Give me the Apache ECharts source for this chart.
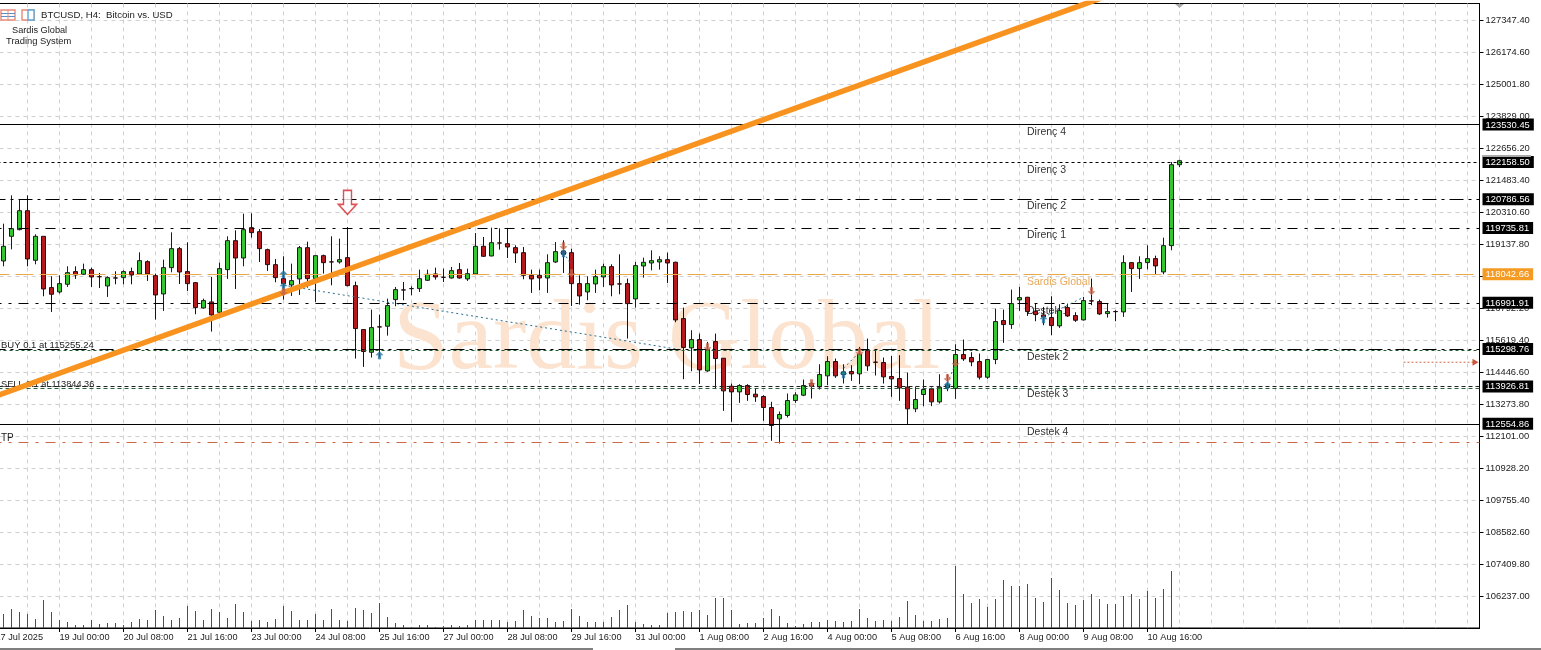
<!DOCTYPE html>
<html>
<head>
<meta charset="utf-8">
<style>html,body{margin:0;padding:0;background:#fff}#c{width:1541px;height:650px}</style>
<script src="https://cdn.jsdelivr.net/npm/echarts@6/dist/echarts.min.js"></script>
</head>
<body>
<div id="c"></div>
<script>
const opens=[118527,119431,119675,120371,118551,119431,117549,117390,117671,118136,118038,118209,117952,117610,117906,117916,118136,118050,118502,117989,117317,118282,118979,118136,117732,116804,117024,116645,118209,119272,118636,119748,119602,118942,118392,117879,117647,117867,119015,117879,118722,118493,118490,118649,117622,116010,115179,116110,116132,117109,
117466,117511,117513,117818,118050,117930,117903,118209,117867,118050,119064,118710,119188,119162,119015,118832,118001,118001,117903,118490,118893,118832,117696,117390,117684,117940,118319,117686,117696,117134,118343,118453,118490,118575,118478,116413,115338,115643,114495,115570,114959,113933,113725,113958,113640,113554,113151,112736,112858,113408,
113604,114031,113909,114312,114838,114361,114471,114386,115241,114815,114801,114288,114215,113897,113103,113628,113836,113359,113885,113848,115094,114984,114838,114263,114911,116340,116194,117098,117195,116682,116548,116450,116145,116817,116524,116365,117063,117037,116597,116672,116658,118466,118246,118466,118613,118124,119089,122058];
const closes=[119064,119712,120371,118600,119431,117500,117305,117696,118099,118013,118209,117940,117947,117916,117900,118136,118013,118539,118050,117280,118282,118979,118123,117696,116816,117073,116547,118246,119272,118636,119675,119565,118979,118392,117916,117696,117806,119015,117879,118722,118465,118490,118575,117622,116047,115204,116083,116105,116890,117476,
117462,117515,117879,118038,117940,117926,118172,117903,118062,119064,118698,119198,119184,119040,118820,118001,117867,117903,118465,118869,118771,117696,117244,117696,117952,118319,117647,117682,116963,118356,118478,118539,118575,118453,116364,115350,115643,114532,115277,114947,113762,113725,113958,113628,113542,113151,112492,112895,113408,113615,
113958,113934,114361,114838,114312,114459,114386,115106,114679,114811,114276,114202,113872,113103,113445,113811,113359,113897,113982,115094,114935,114825,114263,114911,116304,116194,116963,117183,116670,116560,116475,116157,116707,116511,116352,117073,117059,116585,116670,116668,118466,118246,118466,118613,118344,119089,122058,122204];
const lows=[118331,118954,119650,118331,118404,117232,116657,117329,117574,117867,118013,117574,117537,117207,117671,117671,117671,118026,117794,116376,116694,118111,117684,117427,116572,116780,115937,116547,117867,117500,118331,119382,118490,118160,117745,117109,117244,117280,117549,117024,118062,117635,118429,117598,114947,114642,114984,115008,115790,116865,
117085,117268,117390,117794,117842,117757,117879,117879,117794,118038,118673,118698,118942,118637,118453,117855,117354,117451,117354,118453,118087,116877,116926,117085,117354,117574,117232,117305,115680,116816,117916,118184,118209,117720,116279,114190,114483,114019,114458,113860,113029,112626,113322,113396,113359,112663,111930,111832,112785,113322,
113567,113482,113811,113970,114239,114031,114129,114007,114496,114325,114031,113543,113396,112529,112981,113201,113201,113298,113750,113469,114862,114667,114178,114202,114740,115522,116035,116695,116511,116316,116169,115803,116071,116475,116291,116340,116902,116548,116450,116316,116475,117391,117867,118222,118051,118038,118918,121972];
const highs=[119895,120933,120774,120933,119504,119431,117965,118001,118331,118331,118429,118282,118087,117965,118148,118184,118282,118844,118551,118062,118575,119577,119040,119211,117757,117146,117940,118465,119431,119650,120261,120274,119699,118979,118600,118698,118429,119076,119235,118722,118759,119431,119345,119773,117769,116010,116743,116560,117146,117574,
117757,117598,118209,118209,118282,118246,118307,118453,118246,119553,119406,119748,119724,119724,119101,119040,118209,118209,118771,119223,119284,118979,118001,117965,118209,118429,118404,118771,117879,118490,118649,118917,118698,118832,118502,116816,115985,115863,115558,115863,114959,114031,114006,114006,113848,113603,113359,113005,113664,113713,
114178,114090,114740,115033,114948,114740,114703,115375,115681,115277,114984,115045,115070,114434,113909,114178,113885,114373,114373,115473,115644,115180,115131,114911,116780,116743,117476,117574,117208,116963,116841,117232,116939,116963,116646,117208,117880,117110,116963,116719,118735,118466,118698,119101,118722,119382,122155,122241];
const volumes=[14,19,16,14,9,28,16,8,6,3,3,8,4,5,5,3,6,9,8,18,12,8,10,22,17,8,19,16,10,24,16,7,8,6,9,22,17,8,8,14,8,19,8,7,20,18,15,25,11,5,3,1,3,3,1,2,3,2,3,8,8,8,8,6,7,18,12,10,10,6,7,19,12,6,6,6,11,18,
23,6,4,3,3,15,16,17,16,18,13,30,30,18,4,5,5,10,19,12,5,2,4,6,6,8,7,6,7,19,10,7,8,7,11,27,13,7,7,9,10,62,34,25,29,21,29,48,42,42,44,30,26,50,38,25,23,28,34,29,24,24,32,34,29,37,30,39,57,1];
const timeLabels=['17 Jul 2025','19 Jul 00:00','20 Jul 08:00','21 Jul 16:00','23 Jul 00:00','24 Jul 08:00','25 Jul 16:00','27 Jul 00:00','28 Jul 08:00','29 Jul 16:00','31 Jul 00:00','1 Aug 08:00','2 Aug 16:00','4 Aug 00:00','5 Aug 08:00','6 Aug 16:00','8 Aug 00:00','9 Aug 08:00','10 Aug 16:00'];
const priceTicks=[127347.40,126174.60,125001.80,123829.00,122656.20,121483.40,120310.60,119137.80,117965.00,116792.20,115619.40,114446.60,113273.80,112101.00,110928.20,109755.40,108582.60,107409.80,106237.00];
const taggedLevels=[123530.45,122158.50,120786.56,119735.81,116991.91,115298.76,113926.81,112554.86];
const orangeLevel=118042.66;
const buyLevel=115255.24, sellLevel=113844.36, tpLevel=111862.80;
const trendBars=[0,140], trendPrices=[113567,128359];
const tradeLineBars=[[36,86],[71,72],[106,108],[119,120],[131,136]];
const tradeLinePrices=[[117635,115253],[118845,118368],[114593,115179],[114043,114776],[116462,117195]];
const buyBars=[36,36,48,71,106,119,131], buyPrices=[118038,117598,115069,118808,114373,113970,116389];
const sellBars=[36,71,72,89,102,108,119,120,137], sellPrices=[117378,119064,118075,115362,114043,115179,114226,114776,117415];
const signalBar=44, signalPrice=120677;
const pendingBars=[176,185], pendingPrice=114813;
const levelNames=['Direnç 4','Direnç 3','Direnç 2','Direnç 1','Sardis Global','Destek 1','Destek 2','Destek 3','Destek 4'];

const BAR_COUNT=186;
const categories=Array.from({length:BAR_COUNT},(_,i)=>i%8===0&&timeLabels[i/8]?timeLabels[i/8]:'');
const candleData=[['-','-','-','-']].concat(opens.map((o,i)=>[o,closes[i],lows[i],highs[i]]));
const volData=[null].concat(volumes);
const FONT='Liberation Sans';
const isOrange=v=>v===orangeLevel;
const isTag=v=>taggedLevels.includes(v);

const dash1=[14,5,3,5], dash2=[10,7,3,7];
const levelLine=(v,color,type,width)=>({yAxis:v,lineStyle:{color,type,width:width||1}});

const tradeSeries=tradeLineBars.map((b,n)=>({
  type:'line',z:4,silent:true,symbol:'none',
  data:[[b[0],tradeLinePrices[n][0]],[b[1],tradeLinePrices[n][1]]],
  lineStyle:{color:'#2b6f93',width:1,type:[2,3]}
}));

const levelTextY=[132,170,206,235,282,311,357,394,432];
const txt=(text,x,y,fill,size,z)=>({type:'text',x,y,z:z||10,silent:true,style:{text,fill:fill||'#222',font:(size||10)+'px "'+FONT+'"',textVerticalAlign:'middle'}});

const graphics=[
  {type:'text',x:393,y:392,z:1,silent:true,style:{text:'Sardis Global',fill:'#FBE3D0',font:'100px "Liberation Serif"',textVerticalAlign:'bottom'}},
  txt('BUY 0.1 at 115255.24',1,345,'#222',9.5,1),
  txt('SELL 0.1 at 113844.36',1,384,'#222',9.2,1),
  txt('TP',1,438,'#222',10,1),
  txt('BTCUSD, H4:  Bitcoin vs. USD',41,15,'#222',9.6),
  txt('Sardis Global',12,30,'#222',9.2),
  txt('Trading System',6,41,'#222',9.4),
  {type:'rect',z:10,shape:{x:1,y:10,width:14,height:10},style:{fill:'#fff',stroke:'#E98A78',lineWidth:1.4}},
  {type:'line',z:10,shape:{x1:1,y1:13.5,x2:15,y2:13.5},style:{stroke:'#5B8FC7',lineWidth:1}},
  {type:'line',z:10,shape:{x1:1,y1:16.5,x2:15,y2:16.5},style:{stroke:'#5B8FC7',lineWidth:1}},
  {type:'line',z:10,shape:{x1:8,y1:10,x2:8,y2:20},style:{stroke:'#E98A78',lineWidth:1}},
  {type:'rect',z:10,shape:{x:22,y:10,width:12,height:10},style:{fill:'#fff',stroke:'#E98A78',lineWidth:1.4}},
  {type:'rect',z:10,shape:{x:28,y:10,width:6,height:10},style:{fill:'#fff',stroke:'#5BA7DB',lineWidth:1.4}},
  {type:'polygon',z:10,shape:{points:[[1175,4],[1184,4],[1179.5,8]]},style:{fill:'#aaaaaa'}},
  {type:'rect',z:10,shape:{x:1482,y:155,width:49,height:2},style:{fill:'#a9a9a9'}},
  {type:'line',z:10,shape:{x1:0,y1:649,x2:593,y2:649},style:{stroke:'#000',lineWidth:1.2}},
  {type:'line',z:10,shape:{x1:675,y1:649,x2:1541,y2:649},style:{stroke:'#000',lineWidth:1.2}}
].concat(levelNames.map((n,i)=>txt(n,1027,levelTextY[i],i===4?'#E8A85A':'#333',10.5,i===5?2:10)));

const arrowUp='path://M5,0L10,5H7V10H3V5H0Z', arrowDown='path://M3,0H7V5H10L5,10L0,5H3Z';

const chart=echarts.init(document.getElementById('c'),null,{renderer:'canvas'});
chart.setOption({
  animation:false,
  backgroundColor:'#fff',
  graphic:{elements:graphics},
  grid:{left:-8.5,top:3.5,width:1488,height:624.5,show:true,borderColor:'#000',borderWidth:1,backgroundColor:'transparent',outerBoundsMode:'none',containLabel:false},
  xAxis:{
    type:'category',data:categories,boundaryGap:true,
    axisLine:{show:true,lineStyle:{color:'#000',width:1}},
    axisTick:{show:true,alignWithLabel:true,length:4,interval:i=>i%8===0&&i<=144,lineStyle:{color:'#000'}},
    axisLabel:{show:true,interval:i=>i%8===0,align:'left',margin:5,color:'#222',fontFamily:FONT,fontSize:9.2,hideOverlap:false},
    splitLine:{show:true,alignWithLabel:true,interval:i=>i%4===0,lineStyle:{color:'#d0d0d0',type:[4,4],width:1}}
  },
  yAxis:[{
    type:'value',position:'right',min:105064.2,max:127970.4,scale:true,
    axisLine:{show:true,onZero:false,lineStyle:{color:'#000',width:1}},
    axisTick:{show:true,length:4,customValues:priceTicks,lineStyle:{color:'#000'}},
    splitLine:{show:true,lineStyle:{color:'#d0d0d0',type:[4,4],width:1}},
    axisLabel:{
      show:true,margin:3,customValues:priceTicks.concat([orangeLevel],taggedLevels),
      showMinLabel:true,showMaxLabel:true,
      formatter:v=>{const s=Number(v).toFixed(2);return isOrange(v)?'{o|'+s+'}':isTag(v)?'{k|'+s+'}':'{n|'+s+'}';},
      rich:{
        n:{color:'#222',fontFamily:FONT,fontSize:9.4,padding:[0,0,0,3]},
        k:{color:'#fff',backgroundColor:'#000',fontFamily:FONT,fontSize:9.4,padding:[2,4,1,3]},
        o:{color:'#fff',backgroundColor:'#F59A23',fontFamily:FONT,fontSize:9.4,padding:[2,4,1,3]}
      }
    }
  },{
    type:'value',show:false,min:0,max:624.5,splitLine:{show:false}
  }],
  series:[
    {type:'line',z:1,silent:true,data:[],markLine:{silent:true,symbol:'none',animation:false,label:{show:false},data:[
      levelLine(123530.45,'#000','solid'),
      levelLine(122158.50,'#000',[3,3]),
      levelLine(120786.56,'#000',dash1),
      levelLine(119735.81,'#000',dash2),
      levelLine(orangeLevel,'#E9A84A',[18,6]),
      levelLine(116991.91,'#000',dash2),
      levelLine(115298.76,'#000',dash1),
      levelLine(buyLevel,'#1d5c2a',[3,3]),
      levelLine(113926.81,'#222',[4,3]),
      levelLine(sellLevel,'#2b5f3c',[4,3]),
      levelLine(112554.86,'#000','solid'),
      levelLine(tpLevel,'#C9694A',dash2)
    ]}},
    {type:'bar',name:'Volume',yAxisIndex:1,z:2,silent:true,barWidth:1,data:volData,itemStyle:{color:'#1f6a2c'}},
    {type:'candlestick',name:'BTCUSD',z:3,silent:true,barWidth:5,data:candleData,
      itemStyle:{color:'#33C62E',color0:'#B5191E',borderColor:'#1c1c1c',borderColor0:'#2a0a0a',borderWidth:1}},
    {type:'line',name:'Trend',z:5,silent:true,symbol:'none',data:trendBars.map((b,i)=>[b,trendPrices[i]]),
      lineStyle:{color:'#F7931E',width:5.5,cap:'butt'}},
    ...tradeSeries,
    {type:'line',z:4,silent:true,showSymbol:true,showAllSymbol:true,clip:false,data:[
        {value:[pendingBars[0],pendingPrice],symbol:'none'},
        {value:[pendingBars[1],pendingPrice],symbol:'triangle',symbolSize:[7,6],symbolRotate:-90}
      ],lineStyle:{color:'#CB6A4D',width:1,type:[2,2]},itemStyle:{color:'#C9583A'}},
    {type:'scatter',z:6,silent:true,symbol:arrowUp,symbolSize:8,data:buyBars.map((b,i)=>[b,buyPrices[i]]),itemStyle:{color:'#1F6F9F'}},
    {type:'scatter',z:6,silent:true,symbol:arrowDown,symbolSize:8,data:sellBars.map((b,i)=>[b,sellPrices[i]]),itemStyle:{color:'#C4644A'}},
    {type:'scatter',z:7,silent:true,symbol:'path://M5,0H13V14H18L9,24L0,14H5Z',symbolSize:[18,24],data:[[signalBar,signalPrice]],
      itemStyle:{color:'#fff',borderColor:'#D8262C',borderWidth:1.6}}
  ]
});
</script>
</body>
</html>
